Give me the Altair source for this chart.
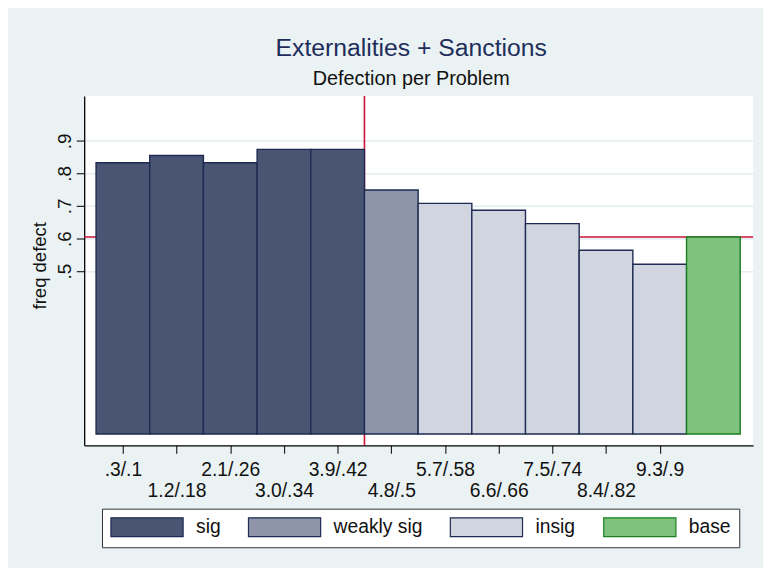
import altair as alt
import pandas as pd

# ---- data ----
tick_labels = [".3/.1", "1.2/.18", "2.1/.26", "3.0/.34", "3.9/.42", "4.8/.5",
               "5.7/.58", "6.6/.66", "7.5/.74", "8.4/.82", "9.3/.9"]
values = [0.833, 0.855, 0.833, 0.874, 0.874, 0.749,
          0.708, 0.687, 0.646, 0.564, 0.521, 0.605]
groups = ["sig"] * 5 + ["weakly sig"] + ["insig"] * 5 + ["base"]
group_order = ["sig", "weakly sig", "insig", "base"]
fill_colors = ["#4A5574", "#8E95A9", "#D1D5E0", "#7FC17F"]
stroke_colors = ["#1E2B52", "#1E2B52", "#1E2B52", "#17801E"]
y_ticks = [0.5, 0.6, 0.7, 0.8, 0.9]

FONT = "Liberation Sans"
RED = "#CC1236"

pos = list(range(1, len(values) + 1))
df = pd.DataFrame({
    "pos": pos,
    "x0": [p - 0.5 for p in pos],
    "x1": [p + 0.5 for p in pos],
    "v": values,
    "group": groups,
})

n_sig = groups.count("sig")
base_val = values[groups.index("base")]

xscale = alt.Scale(domain=[0.279, 12.74], nice=False, zero=False)
yscale = alt.Scale(domain=[-0.035, 1.0377], nice=False, zero=False)

arr = "[" + ",".join("'" + s + "'" for s in tick_labels) + "]"
x_label_expr = f"datum.value % 2 == 0 ? ['', {arr}[datum.value-1]] : {arr}[datum.value-1]"

x_axis = alt.Axis(values=list(range(1, len(tick_labels) + 1)), labelExpr=x_label_expr,
                  tickSize=8, tickColor="#222", tickWidth=1.2, domainColor="#000",
                  domainWidth=1.3, grid=False, labelFont=FONT, labelFontSize=19.5,
                  labelColor="#111", labelPadding=7, labelLineHeight=22,
                  labelBaseline="top", labelAlign="center", labelFlush=False,
                  labelOverlap=False, title=None)

y_axis = alt.Axis(values=y_ticks, labelExpr="replace(format(datum.value, '.1f'), '0.', '.')",
                  tickSize=8, tickColor="#222", tickWidth=1.2, domainColor="#000",
                  domainWidth=1.3, grid=True, gridColor="#E3ECEF", gridWidth=1.5,
                  labelFont=FONT, labelFontSize=19, labelColor="#111",
                  labelAngle=270, labelAlign="center", labelBaseline="bottom",
                  labelPadding=2, labelFlush=False, labelOverlap=False,
                  title="freq defect", titleFont=FONT, titleFontSize=18.7,
                  titleFontWeight="normal", titleColor="#111", titleAngle=270,
                  titleAlign="center", titleBaseline="middle", titleX=-45, titleY=171)

hrule = alt.Chart(pd.DataFrame({"y": [base_val]})).mark_rule(
    color=RED, strokeWidth=1.6).encode(
    y=alt.Y("y:Q", scale=yscale, axis=y_axis))

vrule = alt.Chart(pd.DataFrame({"x": [n_sig + 0.5]})).mark_rule(
    color=RED, strokeWidth=1.6).encode(
    x=alt.X("x:Q", scale=xscale, axis=x_axis))

# legend swatch: 73 x 19 px rectangle drawn around a 19 px symbol slot
legend = alt.Legend(
    title=None, orient="none", legendX=18, legendY=417, direction="horizontal",
    padding=8, fillColor="#FFFFFF", strokeColor="#333333",
    symbolType="M-3.84,-1L3.84,-1L3.84,1L-3.84,1Z", symbolSize=361,
    symbolOffset=27, symbolStrokeWidth=1.2, symbolOpacity=1,
    labelFont=FONT, labelFontSize=19.5, labelColor="#111", labelOffset=39,
    columnPadding=25, labelLimit=300)

bars = alt.Chart(df).mark_bar(strokeWidth=1.4, opacity=1).encode(
    x=alt.X("x0:Q", scale=xscale, axis=x_axis),
    x2="x1:Q",
    y=alt.Y("v:Q", scale=yscale, axis=y_axis),
    y2=alt.datum(0),
    fill=alt.Fill("group:N", scale=alt.Scale(domain=group_order, range=fill_colors),
                  legend=legend),
    stroke=alt.Stroke("group:N", scale=alt.Scale(domain=group_order, range=stroke_colors),
                      legend=legend),
)

chart = alt.layer(hrule, vrule, bars).properties(
    width=676, height=353,
    autosize=alt.AutoSizeParams(type="none"),
    padding={"left": 77, "top": 86, "right": 10, "bottom": 121},
    background="#EAF2F3",
    title=alt.TitleParams(
        text="Externalities + Sanctions", subtitle="Defection per Problem",
        font=FONT, fontSize=25, fontWeight="normal", color="#1E2D5A",
        subtitleFont=FONT, subtitleFontSize=20, subtitleColor="#111",
        subtitlePadding=9, anchor="middle", dx=-7.5, offset=6),
).configure_view(stroke=None, fill="#FFFFFF")

chart.save("out.html", embed_options={"renderer": "svg", "actions": False})
